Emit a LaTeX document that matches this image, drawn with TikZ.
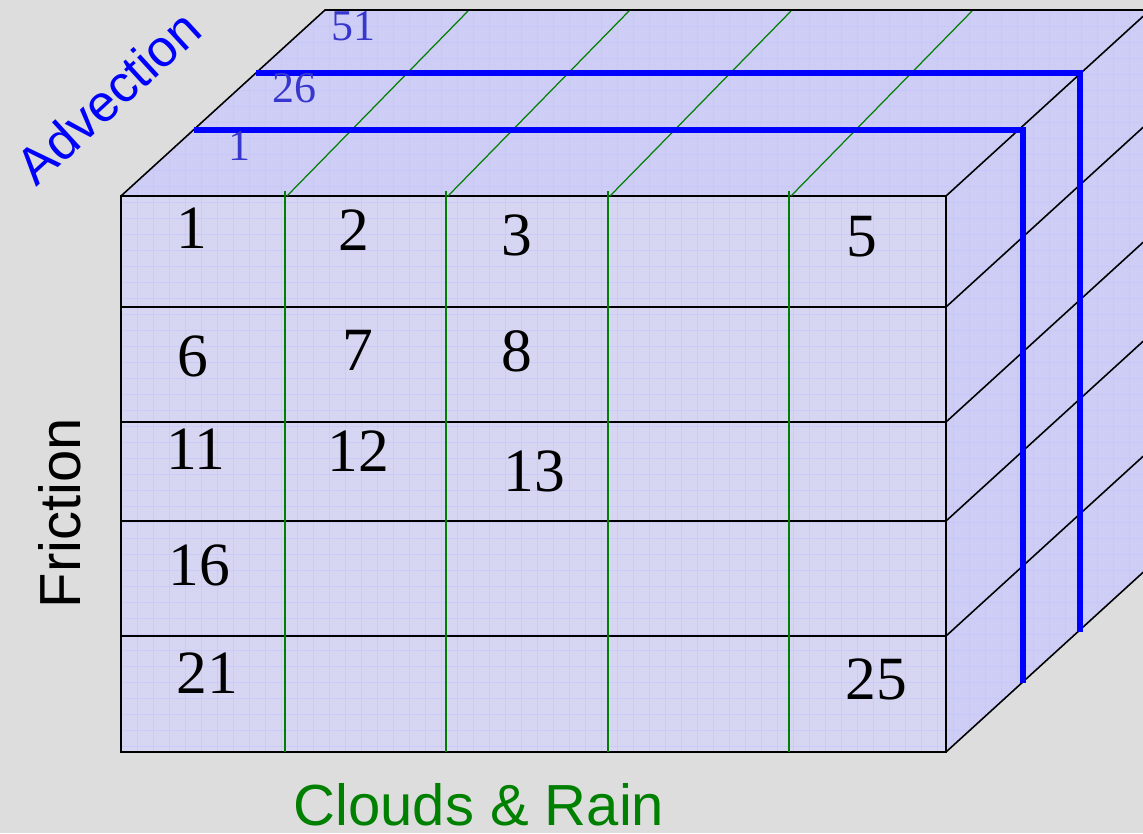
\documentclass[tikz,border=0pt]{standalone}
\usepackage{fontspec}
\setmainfont{Liberation Serif}
\setsansfont{Liberation Sans}
\definecolor{bgray}{RGB}{221,221,221}
\definecolor{frontlav}{RGB}{214,214,242}
\definecolor{sidelav}{RGB}{205,205,246}
\definecolor{gridlav}{RGB}{196,196,252}
\definecolor{cellgreen}{RGB}{0,128,0}
\definecolor{advblue}{RGB}{0,0,255}
\definecolor{layerblue}{RGB}{55,55,205}

\begin{document}
\begin{tikzpicture}[x=0.02cm,y=-0.02cm,
    edge/.style={draw=black,line width=0.9pt},
    split/.style={draw=cellgreen,line width=0.7pt},
    layer/.style={draw=advblue,line width=3.2pt},
    gridline/.style={draw=gridlav,line width=0.25pt,opacity=0.6},
    num/.style={font=\fontsize{35}{37}\selectfont,text=black,inner sep=0pt},
    lnum/.style={font=\fontsize{25}{27}\selectfont,text=layerblue,inner sep=0pt},
    axis/.style={font=\sffamily\fontsize{33}{36}\selectfont,inner sep=0pt}
  ]
    \fill[bgray] (0,0) rectangle (1143,833);
    \useasboundingbox (0,0) rectangle (1143,833);
    \clip (0,0) rectangle (1143,833);
    % faces of the cube
    \fill[frontlav] (121,196) rectangle (946,752);
    \fill[sidelav] (121,196) -- (325,10) -- (1150,10) -- (946,196) -- cycle;
    \fill[sidelav] (946,196) -- (1150,10) -- (1150,566) -- (946,752) -- cycle;
    \begin{scope}
      \clip (121,752) -- (121,196) -- (325,10) -- (1150,10) -- (1150,566) -- (946,752) -- cycle;
      \foreach \gx in {0,16,...,1040} \draw[gridline] (121+\gx,10) -- (121+\gx,752);
      \foreach \gy in {0,16,...,740} \draw[gridline] (121,10+\gy) -- (1143,10+\gy);
    \end{scope}
    % black edges
    \draw[edge] (121,196) rectangle (946,752);
    \draw[edge] (121,196) -- (325,10) -- (1150,10);
    \foreach \ry in {307,422,521,636} \draw[edge] (121,\ry) -- (946,\ry);
    \foreach \ry in {196,307,422,521,636,752} \draw[edge] (946,\ry) -- ++(204,-186);
    % clouds & rain columns
    \foreach \cx in {285,446,608,789} {
      \draw[split] (\cx,191) -- (\cx,752);
      \draw[split] (\cx+2,196) -- ++(181,-185);
    }
    % advection layers
    \coordinate (l1a) at (194,130);
    \coordinate (l1b) at (1023,130);
    \coordinate (l1c) at (1023,683);
    \coordinate (l2a) at (256,73);
    \coordinate (l2b) at (1080,73);
    \coordinate (l2c) at (1080,632);
    \draw[layer] (l1a) -- (l1b) -- (l1c);
    \draw[layer] (l2a) -- (l2b) -- (l2c);
    \node[lnum] (t51) at (353,26) {51};
    \node[lnum] (t26) at (294,88) {26};
    \node[lnum] (t1) at (239,146) {1};
    % cell numbers
    \node[num] (c1) at (192,228) {1};
    \node[num] (c2) at (354,230) {2};
    \node[num] (c3) at (517,235) {3};
    \node[num] (c5) at (862,237) {5};
    \node[num] (c6) at (193,356) {6};
    \node[num] (c7) at (358,350) {7};
    \node[num] (c8) at (517,351) {8};
    \node[num] (c11) at (196,449) {11};
    \node[num] (c12) at (358,451) {12};
    \node[num] (c13) at (534,471) {13};
    \node[num] (c16) at (199,565) {16};
    \node[num] (c21) at (207,673) {21};
    \node[num] (c25) at (876,679) {25};
    % axis labels
    \node[axis,rotate=90] (friction) at (60,513) {Friction};
    \node[axis,text=advblue,rotate=42.5,font=\sffamily\fontsize{29.5}{32}\selectfont] (advection) at (108,97) {Advection};
    \node[axis,text=cellgreen] (clouds) at (479,805) {Clouds \& Rain};
  \end{tikzpicture}
\end{document}
